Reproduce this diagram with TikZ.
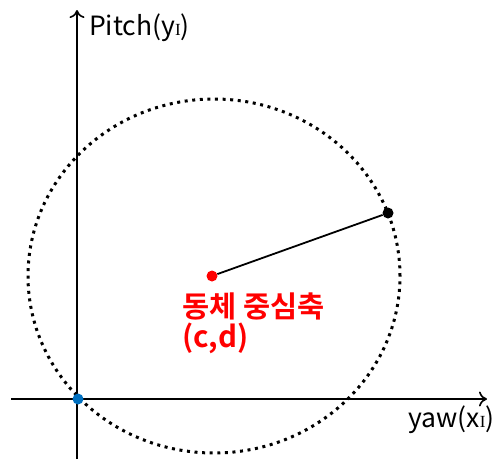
\documentclass[tikz,border=0pt]{standalone}
\usepackage{fontspec}
\setmainfont{Noto Sans CJK KR}[BoldFont={Noto Sans CJK KR Bold}]
\newfontfamily\subfont{Liberation Serif}
\usetikzlibrary{arrows.meta}
\definecolor{origblue}{RGB}{0,112,192}
\tikzset{
  axis/.style={line width=1.7pt,-{To[length=8pt,width=15pt,line width=1.6pt]}},
  dot/.style={circle,inner sep=0pt,minimum size=11pt,fill=#1},
  axislabel/.style={anchor=west,inner sep=0pt,font=\fontsize{26.5}{26.5}\selectfont},
  redlabel/.style={anchor=west,inner sep=0pt,text=red,font=\fontsize{29.5}{29.5}\selectfont\bfseries}
}
\begin{document}
\begin{tikzpicture}[x=1pt,y=-1pt]
  \useasboundingbox (0,0) rectangle (497,459);
  % axes
  \coordinate (xs) at (11,399);
  \coordinate (xe) at (487,399);
  \coordinate (ys) at (77,459);
  \coordinate (ye) at (77,10);
  \draw[axis] (xs) -- (xe);
  \draw[axis] (ys) -- (ye);
  \node[axislabel] (pitch) at (89,28) {Pitch(y{\subfont\fontsize{17}{17}\selectfont I})};
  \node[axislabel] (yaw) at (408,420) {yaw(x{\subfont\fontsize{17}{17}\selectfont I})};
  % circle of motion
  \coordinate (c0) at (214,276);
  \draw[line width=3pt,dash pattern=on 3pt off 4.6pt] (c0) ellipse [x radius=186pt,y radius=177pt];
  \node[dot=red] (cen) at (212,276) {};
  \node[dot=black] (rim) at (388,213) {};
  \node[dot=origblue] (orig) at (78,399) {};
  \draw[line width=1.8pt] (cen) -- (rim);
  \node[redlabel] (body) at (182,306) {동체 중심축};
  \node[redlabel] (cd) at (182,338) {(c,d)};
\end{tikzpicture}
\end{document}
